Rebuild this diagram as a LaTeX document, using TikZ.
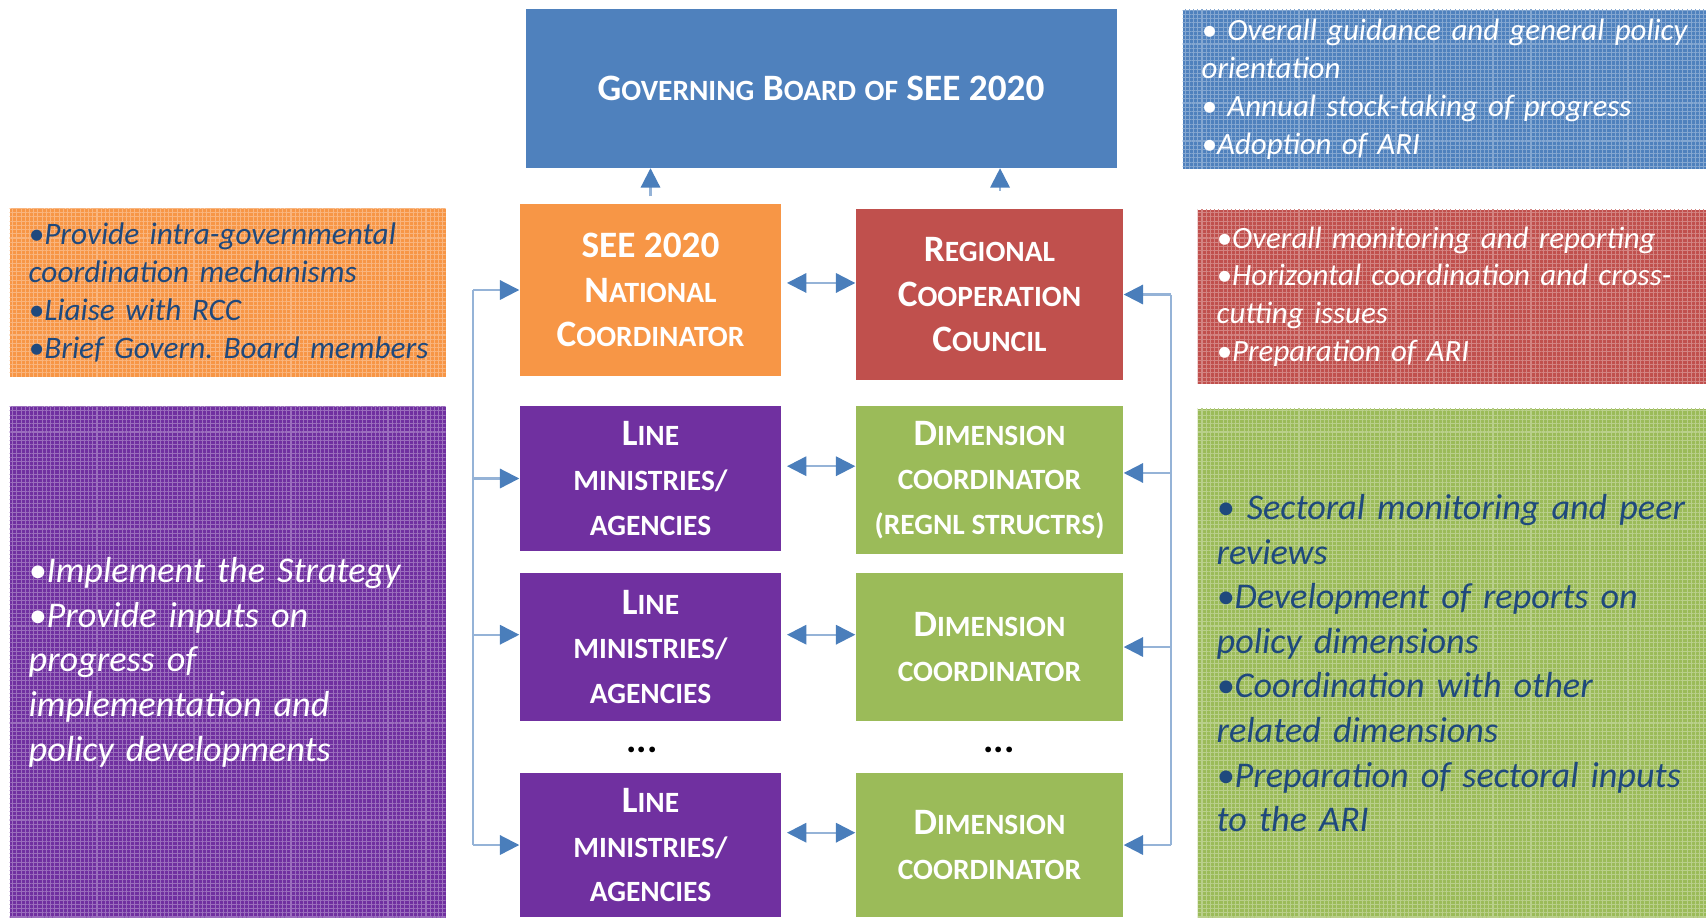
\documentclass[tikz,border=0pt]{standalone}
\usepackage{fontspec}
\setmainfont{Carlito}
\usetikzlibrary{arrows.meta,patterns.meta}
\frenchspacing

\definecolor{gbblue}{HTML}{4F81BD}
\definecolor{ncorange}{HTML}{F79646}
\definecolor{rccred}{HTML}{C0504D}
\definecolor{lmpurple}{HTML}{7030A0}
\definecolor{dimgreen}{HTML}{9BBB59}
\definecolor{notetext}{HTML}{1F497D}
\definecolor{linkline}{HTML}{95B3D7}
\definecolor{linkhead}{HTML}{4A7EBB}

\newcommand{\lowcap}[1]{\scalebox{0.79}{#1}}

\begin{document}
\begin{tikzpicture}[
    box/.style={fill=#1, text=white, inner sep=0pt, align=center,
      font=\fontsize{10.6}{12.7}\selectfont\bfseries},
    note/.style={fill=#1, anchor=north west, align=left,
      postaction={pattern={Hatch[angle=0,distance=1.2pt,line width=0.3pt]},
        pattern color=white!30!#1},
      inner xsep=0.19cm, inner ysep=0pt,
      font=\fontsize{8.8}{10.8}\selectfont\itshape},
    link/.style={draw=linkline, line width=0.6pt,
      -{Triangle[length=5.5pt,width=5.5pt,color=linkhead]}},
    twoway/.style={link, {Triangle[length=5.5pt,width=5.5pt,color=linkhead]}-{Triangle[length=5.5pt,width=5.5pt,color=linkhead]}},
    bus/.style={draw=linkline, line width=0.6pt}
  ]
  \useasboundingbox (0,0) rectangle (17.06,-9.17);

  % centre column
  \node[box=gbblue, minimum width=5.91cm, minimum height=1.59cm] (gb) at (8.21,-0.88)
    {G\lowcap{OVERNING} B\lowcap{OARD} \lowcap{OF} SEE 2020};
  \node[box=ncorange, minimum width=2.61cm, minimum height=1.72cm] (nc) at (6.505,-2.90)
    {SEE 2020\\N\lowcap{ATIONAL}\\C\lowcap{OORDINATOR}};
  \node[box=rccred, minimum width=2.67cm, minimum height=1.71cm] (rcc) at (9.895,-2.945)
    {R\lowcap{EGIONAL}\\C\lowcap{OOPERATION}\\C\lowcap{OUNCIL}};
  \node[box=lmpurple, minimum width=2.61cm, minimum height=1.45cm] (lm1) at (6.505,-4.785)
    {L\lowcap{INE}\\\lowcap{MINISTRIES/}\\\lowcap{AGENCIES}};
  \node[box=dimgreen, minimum width=2.67cm, minimum height=1.48cm] (dim1) at (9.895,-4.80)
    {D\lowcap{IMENSION}\\\lowcap{COORDINATOR}\\\lowcap{(REGNL STRUCTRS)}};
  \node[box=lmpurple, minimum width=2.61cm, minimum height=1.48cm] (lm2) at (6.505,-6.47)
    {L\lowcap{INE}\\\lowcap{MINISTRIES/}\\\lowcap{AGENCIES}};
  \node[box=dimgreen, minimum width=2.67cm, minimum height=1.48cm] (dim2) at (9.895,-6.47)
    {D\lowcap{IMENSION}\\\lowcap{COORDINATOR}};
  \node[font=\fontsize{11}{12}\selectfont\bfseries] (ldots) at (6.42,-7.50) {...};
  \node[font=\fontsize{11}{12}\selectfont\bfseries] (rdots) at (9.99,-7.50) {...};
  \node[box=lmpurple, minimum width=2.61cm, minimum height=1.44cm] (lm3) at (6.505,-8.45)
    {L\lowcap{INE}\\\lowcap{MINISTRIES/}\\\lowcap{AGENCIES}};
  \node[box=dimgreen, minimum width=2.67cm, minimum height=1.44cm] (dim3) at (9.895,-8.45)
    {D\lowcap{IMENSION}\\\lowcap{COORDINATOR}};

  % side notes
  \node[note=gbblue, text=white, text width=5.3cm, minimum height=1.59cm] (gbnote) at (11.82,-0.09)
    {• Overall guidance and general policy\\orientation\\• Annual stock-taking of progress\\•Adoption of ARI};
  \node[note=ncorange, text=notetext, text width=3.98cm, minimum height=1.68cm,
    font=\fontsize{8.9}{10.8}\selectfont\itshape] (ncnote) at (0.09,-2.08)
    {•Provide intra-governmental\\coordination mechanisms\\•Liaise with RCC\\\mbox{•Brief Govern. Board members}};
  \node[note=rccred, text=white, text width=5.3cm, minimum height=1.74cm] (rccnote) at (11.97,-2.09)
    {•Overall monitoring and reporting\\•Horizontal coordination and cross-\\cutting issues\\•Preparation of ARI};
  \node[note=lmpurple, text=white, text width=3.98cm, minimum height=5.11cm,
    font=\fontsize{10.3}{12.7}\selectfont\itshape] (lmnote) at (0.09,-4.06)
    {•Implement the Strategy\\•Provide inputs on\\progress of\\implementation and\\policy developments};
  \node[note=dimgreen, text=notetext, text width=5.3cm, minimum height=5.09cm,
    font=\fontsize{10.3}{12.7}\selectfont\itshape] (dimnote) at (11.97,-4.08)
    {• Sectoral monitoring and peer\\reviews\\•Development of reports on\\policy dimensions\\•Coordination with other\\related dimensions\\•Preparation of sectoral inputs\\to the ARI};

  % links
  \draw[link, shorten <=2pt] (nc.north) -- (nc.north |- gb.south);
  \draw[link, shorten <=5pt] ([xshift=3pt]rcc.north) -- ([xshift=3pt]rcc.north |- gb.south);
  \draw[twoway, shorten <=1.5pt] ([yshift=2pt]nc.east) -- ([yshift=2pt]nc.east -| rcc.west);
  \draw[twoway, shorten <=1.5pt] ([yshift=3.5pt]lm1.east) -- ([yshift=3.5pt]lm1.east -| dim1.west);
  \draw[twoway, shorten <=1.5pt] ([yshift=3.5pt]lm2.east) -- ([yshift=3.5pt]lm2.east -| dim2.west);
  \draw[twoway, shorten <=1.5pt] ([yshift=3.5pt]lm3.east) -- ([yshift=3.5pt]lm3.east -| dim3.west);

  \coordinate (lbus) at (4.73,0);
  \coordinate (rbus) at (11.71,0);
  \draw[bus] (lbus |- nc.west) -- (lbus |- lm3.west);
  \draw[link] (lbus |- nc.west) -- (nc.west);
  \draw[link] (lbus |- lm1.west) -- (lm1.west);
  \draw[link] ([yshift=3.5pt]lbus |- lm2.west) -- ([yshift=3.5pt]lm2.west);
  \draw[link] (lbus |- lm3.west) -- (lm3.west);
  \draw[bus] (rbus |- rcc.east) -- (rbus |- dim3.east);
  \draw[link] (rbus |- rcc.east) -- (rcc.east);
  \draw[link] ([yshift=2pt]rbus |- dim1.east) -- ([yshift=2pt]dim1.east);
  \draw[link] (rbus |- dim2.east) -- (dim2.east);
  \draw[link] (rbus |- dim3.east) -- (dim3.east);
\end{tikzpicture}
\end{document}
